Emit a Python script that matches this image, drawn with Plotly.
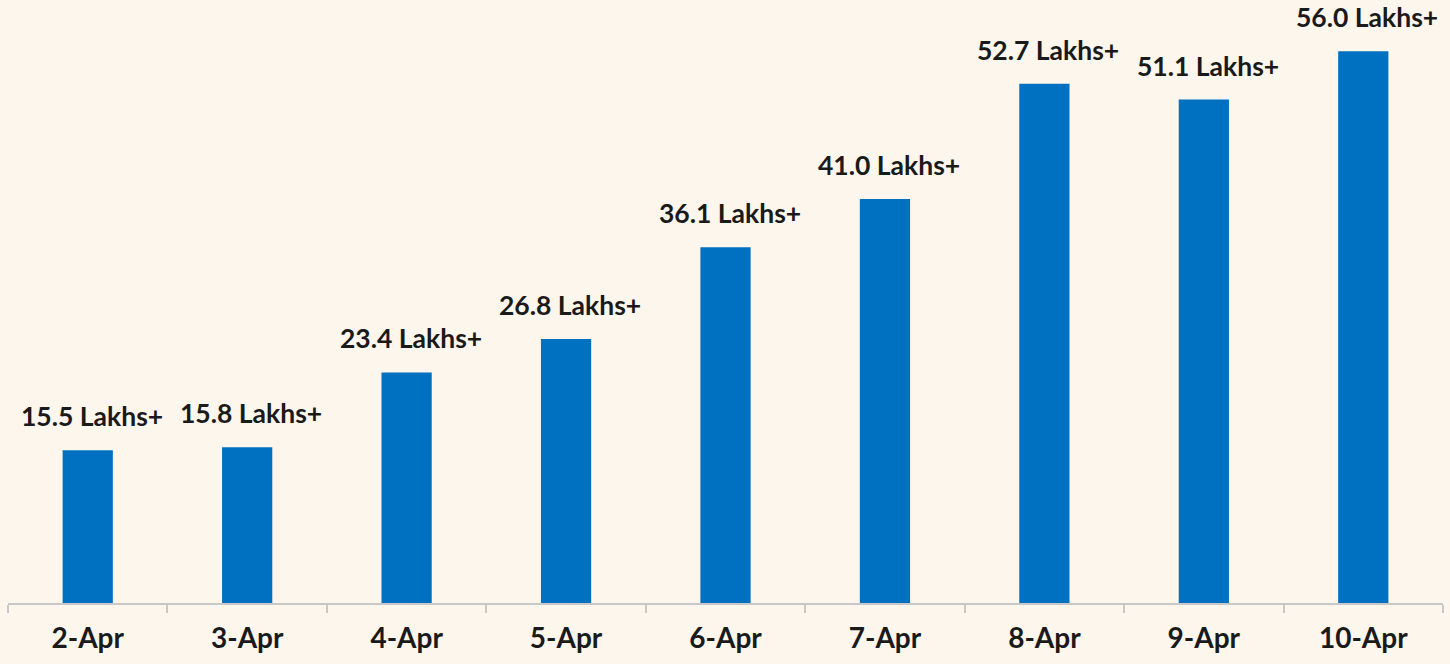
import plotly.graph_objects as go

categories = ["2-Apr", "3-Apr", "4-Apr", "5-Apr", "6-Apr", "7-Apr", "8-Apr", "9-Apr", "10-Apr"]
values = [15.5, 15.8, 23.4, 26.8, 36.1, 41.0, 52.7, 51.1, 56.0]
labels = [f"{v:.1f} Lakhs+" for v in values]

bg = "#FDF6EC"
txt = "#1a1a1a"

fig = go.Figure(go.Bar(
    x=categories, y=values,
    marker=dict(color="#0070C0", line=dict(width=0)),
    width=0.315, cliponaxis=False, hoverinfo="x+y",
))

for c, v, t in zip(categories, values, labels):
    fig.add_annotation(
        x=c, y=v, text=t, showarrow=False, yanchor="bottom", xanchor="center",
        yshift=16, xshift=4,
        font=dict(family="Lato", size=26.5, color=txt, weight="bold"),
    )

fig.update_layout(
    width=1450, height=664,
    paper_bgcolor=bg, plot_bgcolor=bg,
    margin=dict(l=8, r=7, t=0, b=61, autoexpand=False),
    showlegend=False,
    xaxis=dict(
        showline=True, linecolor="#C8C8C8", linewidth=2,
        ticks="outside", tickson="boundaries", ticklen=8, tickcolor="#C8C8C8", tickwidth=2,
        tickfont=dict(family="Lato", size=28, color=txt, weight="bold"),
        ticklabelstandoff=9,
        showgrid=False, automargin=False,
    ),
    yaxis=dict(range=[0, 61.2], visible=False, showgrid=False),
)

fig.write_html(
    "out.html",
    config={"displayModeBar": False},
    post_script="document.body.style.margin='0';document.body.style.background='#FDF6EC';document.body.style.overflow='hidden';",
)
